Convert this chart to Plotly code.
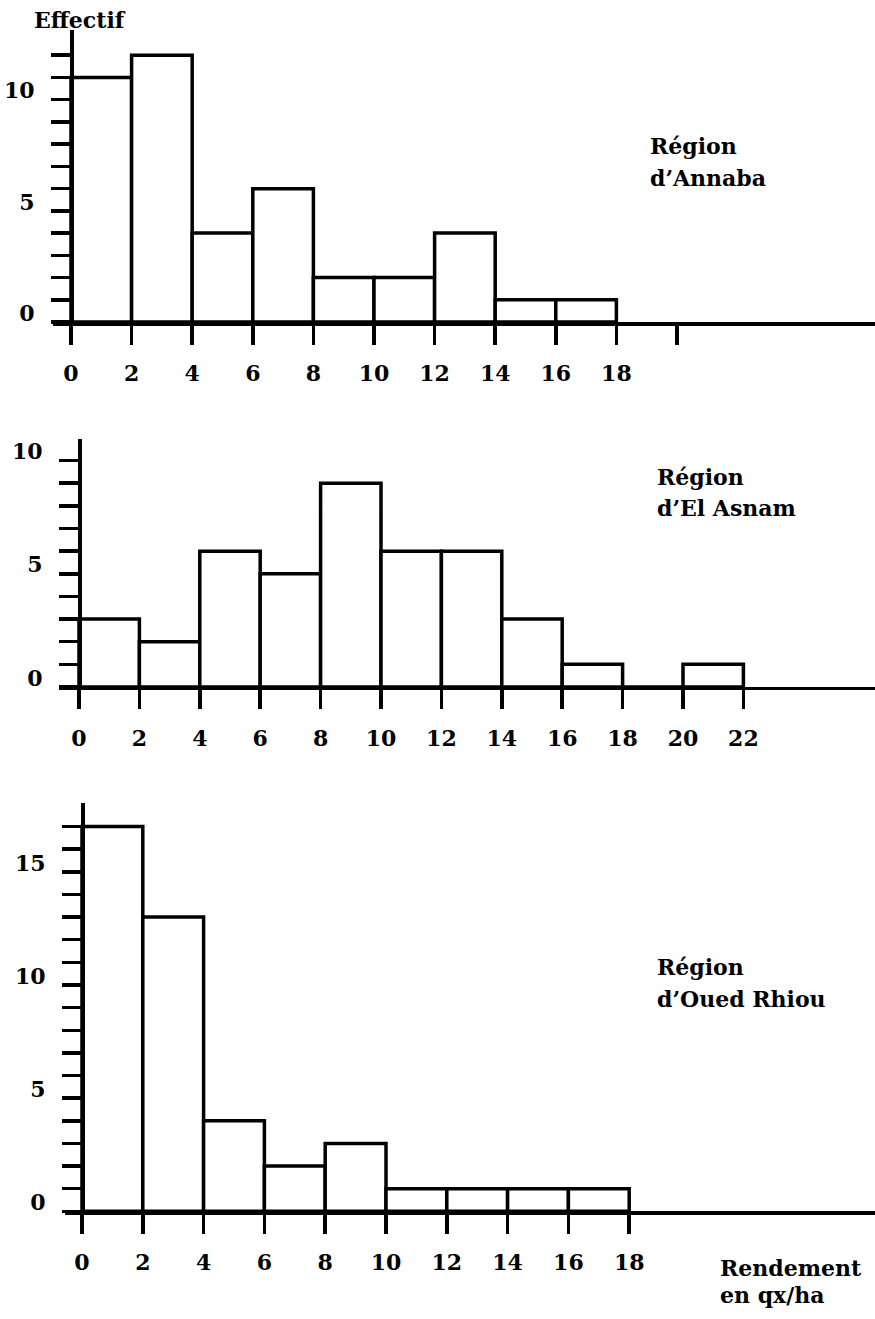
import plotly.graph_objects as go

# ---------------- data ----------------
bin_width = 2
bin_starts_annaba = [0, 2, 4, 6, 8, 10, 12, 14, 16]
counts_annaba = [11, 12, 4, 6, 2, 2, 4, 1, 1]

bin_starts_asnam = [0, 2, 4, 6, 8, 10, 12, 14, 16, 18, 20]
counts_asnam = [3, 2, 6, 5, 9, 6, 6, 3, 1, 0, 1]

bin_starts_oued = [0, 2, 4, 6, 8, 10, 12, 14, 16]
counts_oued = [17, 13, 4, 2, 3, 1, 1, 1, 1]

x_ticks_annaba = [0, 2, 4, 6, 8, 10, 12, 14, 16, 18, 20]
x_labels_annaba = ["0", "2", "4", "6", "8", "10", "12", "14", "16", "18", ""]
x_ticks_asnam = [0, 2, 4, 6, 8, 10, 12, 14, 16, 18, 20, 22]
x_labels_asnam = ["0", "2", "4", "6", "8", "10", "12", "14", "16", "18", "20", "22"]
x_ticks_oued = [0, 2, 4, 6, 8, 10, 12, 14, 16, 18]
x_labels_oued = ["0", "2", "4", "6", "8", "10", "12", "14", "16", "18"]

y_max_tick_annaba = 12
y_max_tick_asnam = 10
y_max_tick_oued = 17
y_label_step = 5

region_titles = [("Région", "d’Annaba"), ("Région", "d’El Asnam"), ("Région", "d’Oued Rhiou")]
y_title = "Effectif"
x_title = ("Rendement", "en qx/ha")

# ---------------- layout (pixels) ----------------
W, H = 875, 1319
FONT = dict(family="DejaVu Serif, serif", size=22, color="black", weight="bold")
LW = 3.5

panels = [
    dict(ax_left=53, y_axis_px=71, x_scale=30.3, zero_px=323, top_px=30, y_scale=22.3,
         starts=bin_starts_annaba, counts=counts_annaba, xt=x_ticks_annaba, xl=x_labels_annaba,
         ymaxtick=y_max_tick_annaba, title=region_titles[0], title_px=(648, 146, 179)),
    dict(ax_left=59, y_axis_px=79, x_scale=30.2, zero_px=689, top_px=440, y_scale=22.7,
         starts=bin_starts_asnam, counts=counts_asnam, xt=x_ticks_asnam, xl=x_labels_asnam,
         ymaxtick=y_max_tick_asnam, title=region_titles[1], title_px=(655, 478, 510)),
    dict(ax_left=65, y_axis_px=82, x_scale=30.4, zero_px=1215, top_px=805, y_scale=22.7,
         starts=bin_starts_oued, counts=counts_oued, xt=x_ticks_oued, xl=x_labels_oued,
         ymaxtick=y_max_tick_oued, title=region_titles[2], title_px=(655, 970, 1002)),
]

fig = go.Figure()
annotations = []
layout_axes = {}

for i, p in enumerate(panels, start=1):
    xname = "x" if i == 1 else f"x{i}"
    yname = "y" if i == 1 else f"y{i}"
    centers = [s + bin_width / 2 for s in p["starts"]]
    fig.add_trace(go.Bar(
        x=centers, y=p["counts"], width=bin_width,
        marker=dict(color="white", line=dict(color="black", width=LW)),
        xaxis=xname, yaxis=yname, showlegend=False, hoverinfo="skip",
    ))
    xr = [(p["ax_left"] - p["y_axis_px"]) / p["x_scale"], (W - p["y_axis_px"]) / p["x_scale"]]
    yr = [0, (p["zero_px"] - p["top_px"]) / p["y_scale"]]
    yticks = list(range(0, p["ymaxtick"] + 1))
    ylabels = [str(v) if v % y_label_step == 0 else "" for v in yticks]
    xkey = "xaxis" if i == 1 else f"xaxis{i}"
    ykey = "yaxis" if i == 1 else f"yaxis{i}"
    layout_axes[xkey] = dict(
        domain=[p["ax_left"] / W, 1.0], range=xr, anchor=yname,
        showgrid=False, zeroline=False, showline=True, linecolor="black", linewidth=LW,
        ticks="outside", ticklen=19, tickwidth=LW, tickcolor="black",
        tickmode="array", tickvals=p["xt"], ticktext=p["xl"],
        tickfont=FONT, ticklabelstandoff=10, fixedrange=True,
    )
    layout_axes[ykey] = dict(
        domain=[1 - p["zero_px"] / H, 1 - p["top_px"] / H], range=yr,
        anchor="free", position=p["y_axis_px"] / W,
        showgrid=False, zeroline=False, showline=True, linecolor="black", linewidth=LW,
        ticks="outside", ticklen=19, tickwidth=LW, tickcolor="black",
        tickmode="array", tickvals=yticks, ticktext=ylabels,
        tickfont=FONT, ticklabelstandoff=12, ticklabelshift=-9, fixedrange=True,
    )
    tx, ty1, ty2 = p["title_px"]
    for txt, ty in zip(p["title"], (ty1, ty2)):
        annotations.append(dict(
            text=txt, xref="paper", yref="paper", x=tx / W, y=1 - ty / H,
            xanchor="left", yanchor="middle", showarrow=False, font=FONT,
        ))

annotations.append(dict(text=y_title, xref="paper", yref="paper", x=32 / W, y=1 - 20 / H,
                        xanchor="left", yanchor="middle", showarrow=False, font=FONT))
for txt, ty in zip(x_title, (1272, 1299)):
    annotations.append(dict(text=txt, xref="paper", yref="paper", x=718 / W, y=1 - ty / H,
                            xanchor="left", yanchor="middle", showarrow=False, font=FONT))

fig.update_layout(
    width=W, height=H, autosize=False,
    margin=dict(l=0, r=0, t=0, b=0, pad=0),
    paper_bgcolor="white", plot_bgcolor="white",
    bargap=0, annotations=annotations, **layout_axes,
)

fig.write_html("out.html", config={"displayModeBar": False, "staticPlot": True},
               post_script="document.body.style.margin='0px';")
